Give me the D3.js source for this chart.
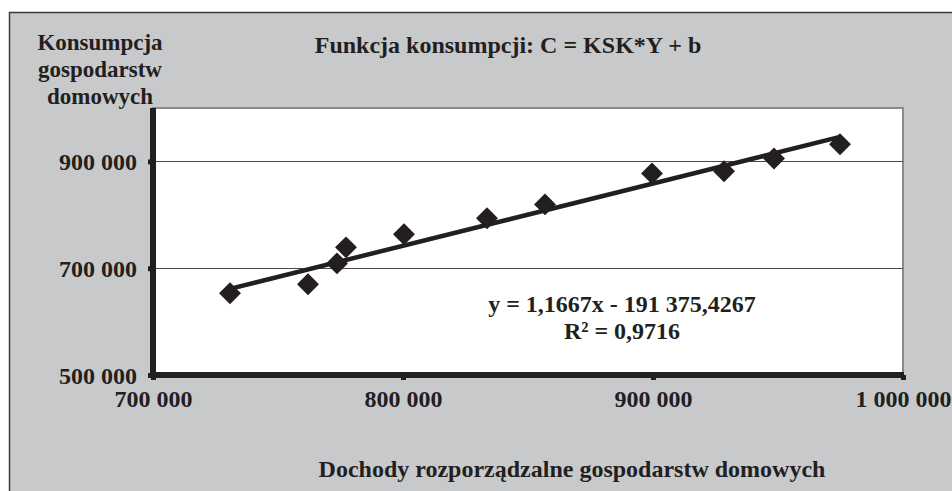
<!DOCTYPE html>
<html>
<head>
<meta charset="utf-8">
<script src="https://cdn.jsdelivr.net/npm/d3@7"></script>
<style>
  body { margin: 0; background: #fff; }
  text { font-family: "Liberation Serif", "Times New Roman", serif; font-weight: bold; fill: #231f20; }
</style>
</head>
<body>
<div id="chart"></div>
<script>
// dochody rozporzadzalne (x) i konsumpcja (y)
var income = [730800, 762000, 773600, 777200, 800400, 833600, 856800, 899600, 928400, 948400, 974800]
var consumption = [653000, 670000, 709000, 739000, 763500, 793500, 819500, 877500, 881500, 905500, 932000]

var xTicks = [700000, 800000, 900000, 1000000]
var yTicks = [500000, 700000, 900000]
var yLabelLines = ['Konsumpcja', 'gospodarstw', 'domowych']

var trend = {slope: 1.1667, intercept: -191375.4267}

var width = 952, height = 491,
    plot = {left: 153, right: 903, top: 108, bottom: 375}

var colors = {
    bg: '#c8c9cb',
    frame: '#3a3a3a',
    ink: '#231f20',
    grid: '#4a4a4a'
}

var fmt = function(v) {
    return d3.format(',')(v).replace(/,/g, ' ')
}

var x = d3.scaleLinear().domain([700000, 1000000]).range([plot.left, plot.right])
var y = d3.scaleLinear().domain([500000, 1000000]).range([plot.bottom, plot.top])

var svg = d3.select('#chart').append('svg')
    .attr('width', width)
    .attr('height', height)

// tlo i ramka
svg.append('rect')
    .attr('x', 0).attr('y', 0).attr('width', width).attr('height', height)
    .attr('fill', '#fff')
svg.append('rect')
    .attr('x', 9.5).attr('y', 12.5).attr('width', width + 10).attr('height', height)
    .attr('fill', colors.bg)
    .attr('stroke', colors.frame)
    .attr('stroke-width', 1.5)

// obszar wykresu
svg.append('rect')
    .attr('x', plot.left).attr('y', plot.top)
    .attr('width', plot.right - plot.left).attr('height', plot.bottom - plot.top)
    .attr('fill', '#fff')
    .attr('stroke', '#8a8a8a')
    .attr('stroke-width', 2)

// linie siatki
svg.append('g').selectAll('line')
    .data(yTicks.slice(1))
    .enter().append('line')
    .attr('x1', plot.left).attr('x2', plot.right)
    .attr('y1', function(d) { return Math.round(y(d)) + 0.5 })
    .attr('y2', function(d) { return Math.round(y(d)) + 0.5 })
    .attr('stroke', colors.grid)
    .attr('stroke-width', 1)

// osie
var yAxis = svg.append('g')
    .attr('transform', 'translate(' + plot.left + ',0)')
    .call(d3.axisLeft(y).tickValues(yTicks).tickFormat(fmt).tickSize(5).tickPadding(11))
var xAxis = svg.append('g')
    .attr('transform', 'translate(0,' + plot.bottom + ')')
    .call(d3.axisBottom(x).tickValues(xTicks).tickFormat(fmt).tickSize(5).tickPadding(10))

;[yAxis, xAxis].forEach(function(ax) {
    ax.select('.domain').remove()
    ax.selectAll('.tick line').attr('stroke', colors.ink).attr('stroke-width', 5)
    ax.selectAll('.tick text')
        .attr('fill', colors.ink)
        .style('font-size', '24px')
        .style('font-family', '"Liberation Serif", serif')
        .style('font-weight', 'bold')
})
yAxis.selectAll('.tick text').attr('dy', '0.35em')

svg.append('line')
    .attr('x1', plot.left).attr('x2', plot.left)
    .attr('y1', plot.top).attr('y2', plot.bottom + 2.5)
    .attr('stroke', colors.ink).attr('stroke-width', 6)
svg.append('line')
    .attr('x1', plot.left - 3).attr('x2', plot.right + 1)
    .attr('y1', plot.bottom).attr('y2', plot.bottom)
    .attr('stroke', colors.ink).attr('stroke-width', 6)

// linia trendu
var xMin = d3.min(income), xMax = d3.max(income)
svg.append('line')
    .attr('x1', x(xMin)).attr('y1', y(trend.slope * xMin + trend.intercept))
    .attr('x2', x(xMax)).attr('y2', y(trend.slope * xMax + trend.intercept))
    .attr('stroke', colors.ink)
    .attr('stroke-width', 4.5)

// punkty
var diamond = d3.symbol().type(d3.symbolSquare).size(240)
svg.append('g').selectAll('path')
    .data(income)
    .enter().append('path')
    .attr('d', diamond)
    .attr('transform', function(d, i) {
        return 'translate(' + x(d) + ',' + y(consumption[i]) + ') rotate(45)'
    })
    .attr('fill', colors.ink)

// napisy
svg.append('text')
    .attr('x', 508).attr('y', 53)
    .attr('text-anchor', 'middle')
    .style('font-size', '24px')
    .text('Funkcja konsumpcji: C = KSK*Y + b')

svg.append('text')
    .attr('text-anchor', 'middle')
    .style('font-size', '23px')
    .selectAll('tspan')
    .data(yLabelLines)
    .enter().append('tspan')
    .attr('x', 100)
    .attr('y', function(d, i) { return 50 + i * 27 })
    .text(function(d) { return d })

svg.append('text')
    .attr('x', 622).attr('y', 312)
    .attr('text-anchor', 'middle')
    .style('font-size', '24px')
    .text('y = 1,1667x - 191 375,4267')
svg.append('text')
    .attr('x', 622).attr('y', 339)
    .attr('text-anchor', 'middle')
    .style('font-size', '24px')
    .text('R² = 0,9716')

svg.append('text')
    .attr('x', 572).attr('y', 477)
    .attr('text-anchor', 'middle')
    .style('font-size', '24px')
    .text('Dochody rozporządzalne gospodarstw domowych')
</script>
</body>
</html>
